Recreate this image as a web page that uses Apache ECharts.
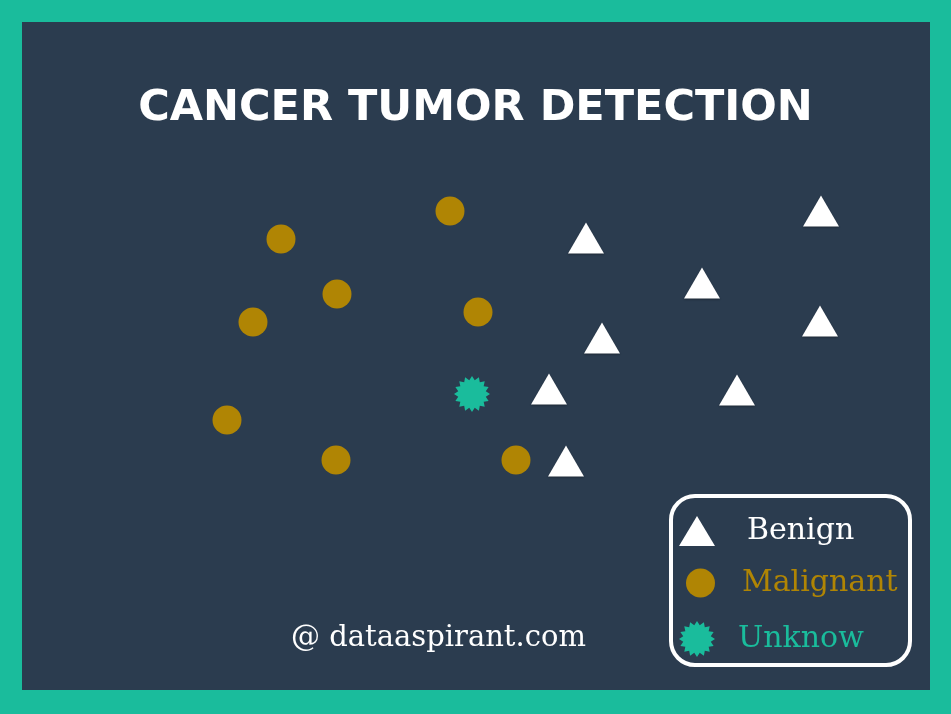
<!DOCTYPE html>
<html>
<head>
<meta charset="utf-8">
<script src="https://cdn.jsdelivr.net/npm/echarts@6/dist/echarts.min.js"></script>
<style>
  html, body { margin: 0; padding: 0; background: #1abc9c; }
  #chart { width: 951px; height: 714px; }
</style>
</head>
<body>
<div id="chart"></div>
<script>
// positions (x right, y down, origin at panel corner)
const malignant = [
  [259, 217], [428, 189], [315, 272], [231, 300],
  [456, 290], [205, 398], [314, 438], [494, 438]
];
const benign = [
  [564, 216], [799, 189], [680, 261], [798, 299],
  [580, 316], [527, 367], [715, 368], [544, 439]
];
const unknown = [[450, 372]];
const seriesNames = ["Benign", "Malignant", "Unknow"];

const navy = "#2b3c4f";
const teal = "#1abc9c";
const gold = "#b08504";

// 16 spike burst for the unknown point
function burstPath(spikes, inner) {
  let d = "";
  for (let i = 0; i < spikes * 2; i++) {
    const r = i % 2 === 0 ? 1 : inner;
    const a = (Math.PI * i) / spikes - Math.PI / 2;
    const x = (50 + 50 * r * Math.cos(a)).toFixed(2);
    const y = (50 + 50 * r * Math.sin(a)).toFixed(2);
    d += (i === 0 ? "M" : "L") + x + "," + y;
  }
  return "path://" + d + "Z";
}
const burst = burstPath(16, 0.78);

const chart = echarts.init(document.getElementById("chart"));

const legendText = { fontFamily: "DejaVu Serif", fontSize: 30 };

const option = {
  backgroundColor: teal,
  animation: false,
  title: [
    {
      text: "CANCER TUMOR DETECTION",
      left: "center",
      top: 82,
      textStyle: { color: "#fff", fontFamily: "DejaVu Sans", fontWeight: "bold", fontSize: 43 }
    },
    {
      text: "@ dataaspirant.com",
      left: 286,
      top: 619,
      textStyle: { color: "#fff", fontFamily: "DejaVu Serif", fontWeight: "normal", fontSize: 29 }
    }
  ],
  grid: {
    show: true, left: 22, top: 22, width: 908, height: 668,
    backgroundColor: navy, borderWidth: 0
  },
  xAxis: { type: "value", min: 0, max: 908, show: false },
  yAxis: { type: "value", min: 0, max: 668, inverse: true, show: false },
  legend: [
    {
      data: [{ name: seriesNames[0], icon: "triangle" }],
      left: 679, top: 516, padding: 0, itemWidth: 36, itemHeight: 30,
      symbolKeepAspect: false, selectedMode: false,
      textStyle: Object.assign({ color: "#fff", padding: [0, 0, 0, 27] }, legendText)
    },
    {
      data: [{ name: seriesNames[1], icon: "circle" }],
      left: 686, top: 568, padding: 0, itemWidth: 29, itemHeight: 29,
      selectedMode: false,
      textStyle: Object.assign({ color: gold, padding: [0, 0, 0, 22] }, legendText)
    },
    {
      data: [{ name: seriesNames[2], icon: burst }],
      left: 679, top: 621, padding: 0, itemWidth: 36, itemHeight: 36,
      selectedMode: false,
      textStyle: Object.assign({ color: teal, padding: [0, 0, 0, 18] }, legendText)
    }
  ],
  graphic: [
    {
      type: "rect", z: 100,
      shape: { x: 671, y: 496, width: 239, height: 169, r: 24 },
      style: { fill: null, stroke: "#fff", lineWidth: 4 }
    }
  ],
  series: [
    {
      name: seriesNames[0], type: "scatter", data: benign,
      symbol: "triangle", symbolSize: [36, 31],
      itemStyle: { color: "#fff", opacity: 1, shadowColor: "rgba(0,0,0,0.35)", shadowBlur: 2, shadowOffsetY: 1 }
    },
    {
      name: seriesNames[1], type: "scatter", data: malignant,
      symbol: "circle", symbolSize: 29,
      itemStyle: { color: gold, opacity: 1 }
    },
    {
      name: seriesNames[2], type: "scatter", data: unknown,
      symbol: burst, symbolSize: 36,
      itemStyle: { color: teal, opacity: 1 }
    }
  ]
};

chart.setOption(option);
</script>
</body>
</html>
